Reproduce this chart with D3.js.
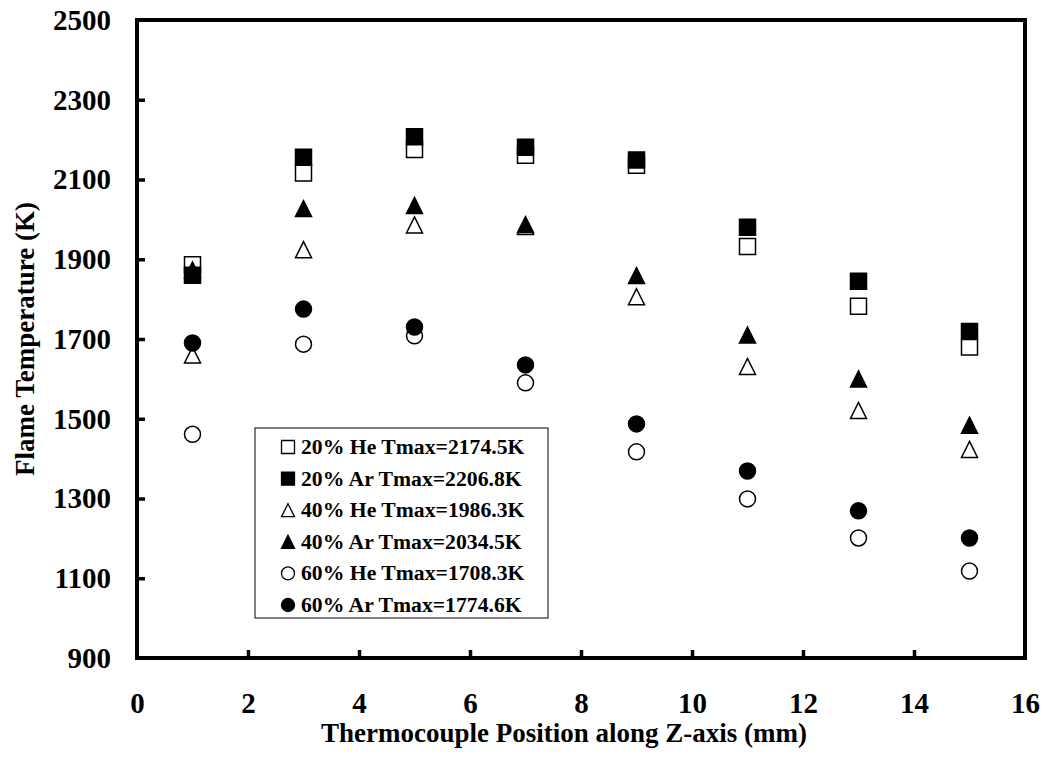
<!DOCTYPE html>
<html>
<head>
<meta charset="utf-8">
<script src="https://cdn.jsdelivr.net/npm/d3@7"></script>
<style>
  body { margin: 0; background: #fff; }
  text { font-family: "Liberation Serif", "Times New Roman", serif; font-weight: bold; fill: #000; }
</style>
</head>
<body>
<svg id="chart" width="1047" height="761"></svg>
<script>
const positions = [1, 3, 5, 7, 9, 11, 13, 15];
const he20 = [1886, 2116, 2175, 2161, 2136, 1932, 1782, 1680];
const ar20 = [1860, 2156, 2207, 2181, 2149, 1980, 1845, 1719];
const he40 = [1660, 1924, 1986, 1982, 1806, 1631, 1521, 1423];
const ar40 = [1873, 2027, 2035, 1987, 1859, 1710, 1600, 1484];
const he60 = [1461, 1687, 1708, 1590, 1417, 1299, 1201, 1118];
const ar60 = [1690, 1775, 1730, 1635, 1487, 1369, 1269, 1201];
const seriesNames = ["20% He Tmax=2174.5K", "20% Ar Tmax=2206.8K", "40% He Tmax=1986.3K",
                     "40% Ar Tmax=2034.5K", "60% He Tmax=1708.3K", "60% Ar Tmax=1774.6K"];
const xTicks = [0, 2, 4, 6, 8, 10, 12, 14, 16];
const yTicks = [900, 1100, 1300, 1500, 1700, 1900, 2100, 2300, 2500];

const series = [
  {name: seriesNames[0], values: he20, shape: "square", filled: false},
  {name: seriesNames[1], values: ar20, shape: "square", filled: true},
  {name: seriesNames[2], values: he40, shape: "triangle", filled: false},
  {name: seriesNames[3], values: ar40, shape: "triangle", filled: true},
  {name: seriesNames[4], values: he60, shape: "circle", filled: false},
  {name: seriesNames[5], values: ar60, shape: "circle", filled: true}
];

const svg = d3.select("#chart");
const pLeft = 137, pRight = 1025, pTop = 20, pBottom = 658;

const x = d3.scaleLinear().domain([0, 16]).range([pLeft, pRight]);
const y = d3.scaleLinear().domain([900, 2500]).range([pBottom, pTop]);

// marker path centred on its bounding box
function markerPath(shape, s) {
  const h = s / 2;
  if (shape === "square") return `M${-h},${-h}H${h}V${h}H${-h}Z`;
  if (shape === "triangle") return `M0,${-h}L${h},${h}L${-h},${h}Z`;
  const p = d3.path();
  p.arc(0, 0, h, 0, 2 * Math.PI);
  p.closePath();
  return p.toString();
}

// axes (ticks pointing inward)
const xAxis = svg.append("g")
  .attr("transform", `translate(0,${pBottom})`)
  .call(d3.axisBottom(x).tickValues(xTicks).tickSize(-8).tickPadding(34).tickFormat(d3.format("d")));
const yAxis = svg.append("g")
  .attr("transform", `translate(${pLeft},0)`)
  .call(d3.axisLeft(y).tickValues(yTicks).tickSize(-8).tickPadding(26).tickFormat(d3.format("d")));

[xAxis, yAxis].forEach(a => {
  a.select(".domain").remove();
  a.selectAll(".tick line").attr("stroke", "#000").attr("stroke-width", 3.5);
  a.selectAll(".tick text").style("font-size", "29px").style("font-family", "Liberation Serif").style("font-weight", "bold");
});
xAxis.selectAll(".tick").filter(d => d === 0 || d === 16).select("line").remove();
yAxis.selectAll(".tick").filter(d => d === 900 || d === 2500).select("line").remove();

// plot frame
svg.append("rect")
  .attr("x", pLeft).attr("y", pTop)
  .attr("width", pRight - pLeft).attr("height", pBottom - pTop)
  .attr("fill", "none").attr("stroke", "#000").attr("stroke-width", 4);

// points
series.forEach(s => {
  svg.append("g").selectAll("path")
    .data(s.values.map((v, i) => [positions[i], v]))
    .join("path")
    .attr("transform", d => `translate(${x(d[0])},${y(d[1])})`)
    .attr("d", markerPath(s.shape, 16))
    .attr("fill", s.filled ? "#000" : "#fff")
    .attr("stroke", "#000")
    .attr("stroke-width", 1.5);
});

// axis titles
svg.append("text")
  .attr("x", (pLeft + pRight) / 2 - 17).attr("y", 742)
  .attr("text-anchor", "middle")
  .style("font-size", "27px")
  .text("Thermocouple Position along Z-axis (mm)");
svg.append("text")
  .attr("transform", `translate(34,${(pTop + pBottom) / 2}) rotate(-90)`)
  .attr("text-anchor", "middle")
  .style("font-size", "27px")
  .text("Flame Temperature (K)");

// legend
const lg = svg.append("g").attr("transform", "translate(255,428)");
lg.append("rect").attr("width", 293).attr("height", 190)
  .attr("fill", "#fff").attr("stroke", "#000").attr("stroke-width", 1);
series.forEach((s, i) => {
  const cy = 19 + i * 31.6;
  lg.append("path")
    .attr("transform", `translate(33,${cy})`)
    .attr("d", markerPath(s.shape, 13))
    .attr("fill", s.filled ? "#000" : "#fff")
    .attr("stroke", "#000").attr("stroke-width", 1.3);
  lg.append("text")
    .attr("x", 46).attr("y", cy + 7)
    .style("font-size", "21.7px")
    .text(s.name);
});
</script>
</body>
</html>
